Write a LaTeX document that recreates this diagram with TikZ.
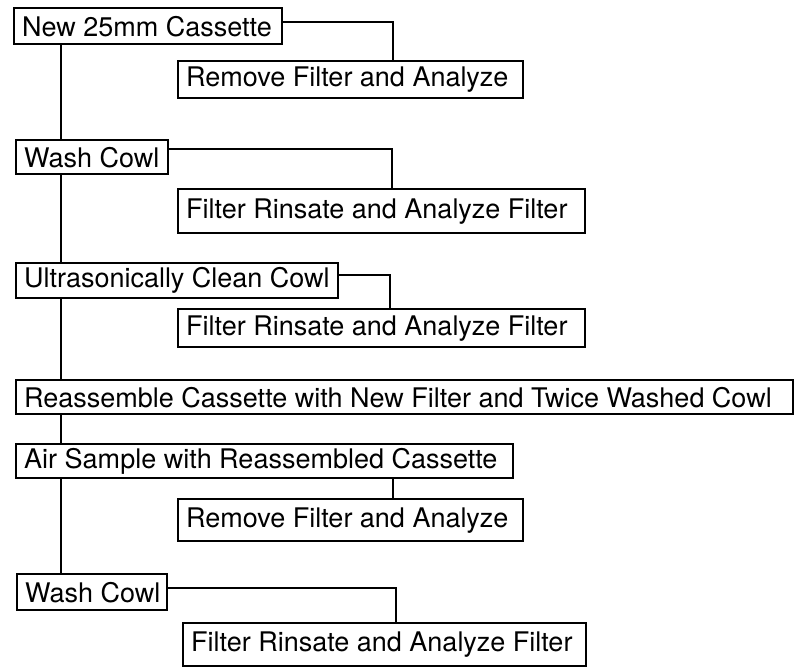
\documentclass[tikz,border=0pt]{standalone}
\usepackage{fontspec}
\setmainfont{TeX Gyre Heros}
\newcommand\lbox[2]{\makebox[#1][l]{#2}}
\begin{document}
\begin{tikzpicture}[x=1pt,y=-1pt,
  box/.style={draw, line width=2.4pt, anchor=north west, inner xsep=8pt, inner ysep=0pt,
    fill=white, font=\fontsize{27}{30}\selectfont},
  link/.style={line width=2.3pt}]
\useasboundingbox (0,0) rectangle (796,670);
\node[box, minimum height=36pt] (b1) at (13,7) {\lbox{252pt}{New 25mm Cassette}};
\node[box, minimum height=37pt] (b2) at (177,60) {\lbox{329pt}{Remove Filter and Analyze}};
\node[box, minimum height=34pt] (b3) at (15,139) {\lbox{136pt}{Wash Cowl}};
\node[box, minimum height=44pt] (b4) at (177,188) {\lbox{391pt}{Filter Rinsate and Analyze Filter}};
\node[box, minimum height=35pt] (b5) at (15,262) {\lbox{306pt}{Ultrasonically Clean Cowl}};
\node[box, minimum height=38pt] (b6) at (177,308) {\lbox{391pt}{Filter Rinsate and Analyze Filter}};
\node[box, minimum height=34pt] (b7) at (15,379) {\lbox{761pt}{Reassemble Cassette with New Filter and Twice Washed Cowl}};
\node[box, minimum height=34pt] (b8) at (15,443) {\lbox{481pt}{Air Sample with Reassembled Cassette}};
\node[box, minimum height=42pt] (b9) at (177,498) {\lbox{329pt}{Remove Filter and Analyze}};
\node[box, minimum height=36pt] (b10) at (16,573) {\lbox{134pt}{Wash Cowl}};
\node[box, minimum height=43pt] (b11) at (182,622) {\lbox{387pt}{Filter Rinsate and Analyze Filter}};
% trunk
\coordinate (t) at (61,0);
\draw[link] (t |- b1.south) -- (t |- b3.north);
\draw[link] (t |- b3.south) -- (t |- b5.north);
\draw[link] (t |- b5.south) -- (t |- b7.north);
\draw[link] (t |- b7.south) -- (t |- b8.north);
\draw[link] (t |- b8.south) -- (t |- b10.north);
% side branches
\coordinate (j1) at (393,22);
\coordinate (j2) at (392,149);
\coordinate (j3) at (390,275);
\coordinate (j5) at (393,0);
\coordinate (j4) at (396,588);
\draw[link] (b1.east |- j1) -- (j1) -- (j1 |- b2.north);
\draw[link] (b3.east |- j2) -- (j2) -- (j2 |- b4.north);
\draw[link] (b5.east |- j3) -- (j3) -- (j3 |- b6.north);
\draw[link] (j5 |- b8.south) -- (j5 |- b9.north);
\draw[link] (b10.east |- j4) -- (j4) -- (j4 |- b11.north);
\end{tikzpicture}
\end{document}
